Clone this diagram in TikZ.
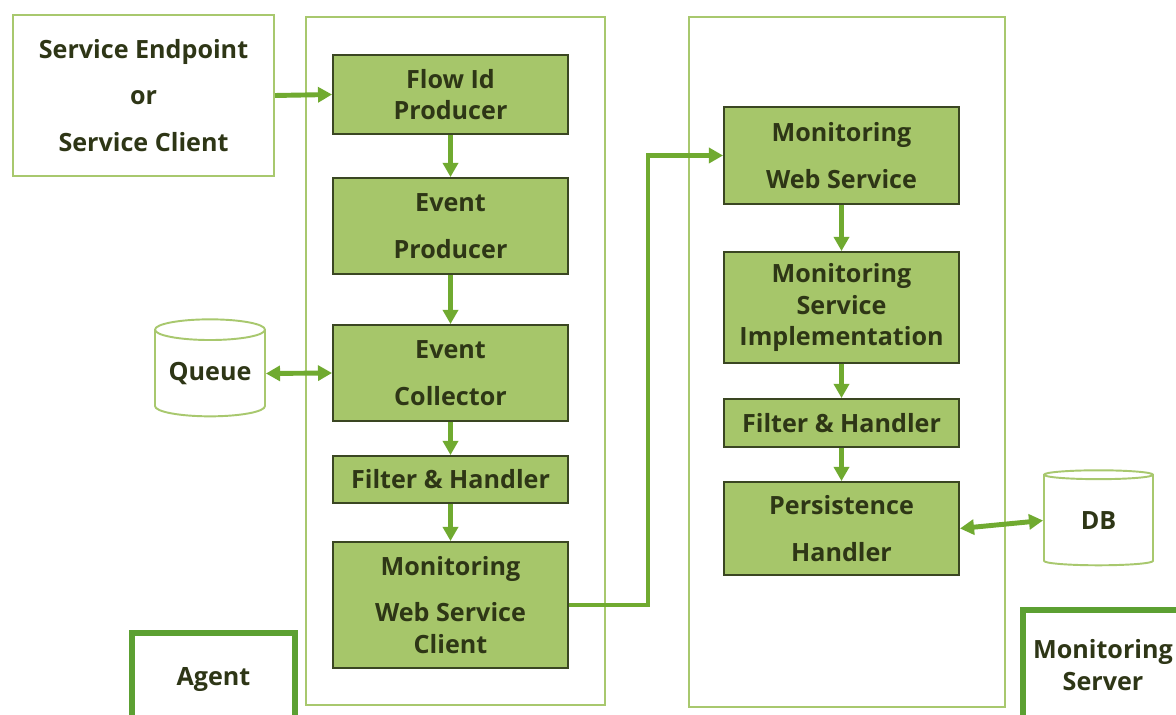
\documentclass[tikz,border=0pt]{standalone}
\usepackage{fontspec}
\setmainfont{Open Sans}
\usetikzlibrary{arrows.meta,shapes.geometric}

\definecolor{boxfill}{RGB}{166,198,106}
\definecolor{boxline}{RGB}{58,70,34}
\definecolor{textcol}{RGB}{46,54,22}
\definecolor{flowcol}{RGB}{112,170,48}
\definecolor{framecol}{RGB}{168,200,110}
\definecolor{tagcol}{RGB}{92,160,50}

\newlength{\du}
\setlength{\du}{0.02cm}

\tikzset{
  labeltext/.style={text=textcol, font=\bfseries\fontsize{14.3}{18.1}\selectfont, align=center},
  compbox/.style={labeltext, draw=boxline, fill=boxfill, line width=1.1pt, inner sep=0pt, minimum width=235\du},
  outerbox/.style={labeltext, draw=framecol, line width=1.2pt, inner sep=0pt},
  tagbox/.style={labeltext, draw=tagcol, line width=3pt, inner sep=0pt},
  store/.style={labeltext, draw=framecol, line width=1.1pt, cylinder, shape border rotate=90, aspect=0.25, inner sep=0pt},
  flow/.style={draw=flowcol, line width=2.8pt, -{Triangle[length=8pt,width=8.5pt]}},
  twoflow/.style={flow, {Triangle[length=8pt,width=8.5pt]}-{Triangle[length=8pt,width=8.5pt]}}
}

\begin{document}
\begin{tikzpicture}
\pgftransformxscale{1.000000}
\pgftransformyscale{-1.000000}
\clip (0\du,0\du) rectangle (1176\du,715\du);
\fill[white] (0\du,0\du) rectangle (1176\du,715\du);

% containers
\draw[draw=framecol, line width=1.2pt] (306\du,17\du) rectangle (605\du,705\du);
\draw[draw=framecol, line width=1.2pt] (689\du,17\du) rectangle (1005\du,707\du);

% caller
\node[outerbox, minimum width=261\du, minimum height=161\du] (caller) at (143.5\du,95.5\du)
  {Service Endpoint\\[8.5pt] or\\[8.5pt] Service Client};

% agent side
\node[compbox, minimum height=79\du] (flowid) at (450.5\du,94.5\du) {Flow Id\\Producer};
\node[compbox, minimum height=96\du] (evprod) at (450.5\du,226\du) {Event\\[8.5pt]Producer};
\node[compbox, minimum height=96\du] (evcoll) at (450.5\du,373\du) {Event\\[8.5pt]Collector};
\node[compbox, minimum height=47\du] (agfilter) at (450.5\du,479.5\du) {Filter \& Handler};
\node[compbox, minimum height=126\du] (wsclient) at (450.5\du,605\du) {Monitoring\\[8.5pt]Web Service\\Client};
\node[store, minimum width=110\du, minimum height=97\du] (queue) at (210\du,373.5\du) {Queue};
\node[tagbox, minimum width=163\du, minimum height=94\du] (agent) at (213.5\du,680\du) {Agent};

% server side
\node[compbox, minimum height=97\du] (websvc) at (841.5\du,155.5\du) {Monitoring\\[8.5pt]Web Service};
\node[compbox, minimum height=111\du] (svcimpl) at (841.5\du,307.5\du) {Monitoring\\Service\\Implementation};
\node[compbox, minimum height=48\du] (srvfilter) at (841.5\du,423\du) {Filter \& Handler};
\node[compbox, minimum height=93\du] (persist) at (841.5\du,528.5\du) {Persistence\\[8.5pt]Handler};
\node[store, minimum width=109\du, minimum height=95\du] (db) at (1098.5\du,520.5\du) {DB};
\node[tagbox, minimum width=160\du, minimum height=110\du] (server) at (1103\du,665\du) {Monitoring\\Server};

% connectors
\draw[flow] (caller.east) -- (flowid.west);
\draw[flow] (flowid) -- (evprod);
\draw[flow] (evprod) -- (evcoll);
\draw[flow] (evcoll) -- (agfilter);
\draw[flow] (agfilter) -- (wsclient);
\draw[twoflow] (queue.east) -- (evcoll.west);
\draw[flow] (wsclient.east) -- (648\du,605\du) |- (websvc.west);
\draw[flow] (websvc) -- (svcimpl);
\draw[flow] (svcimpl) -- (srvfilter);
\draw[flow] (srvfilter) -- (persist);
\draw[twoflow] (persist.east) -- (db.west);
\end{tikzpicture}
\end{document}
